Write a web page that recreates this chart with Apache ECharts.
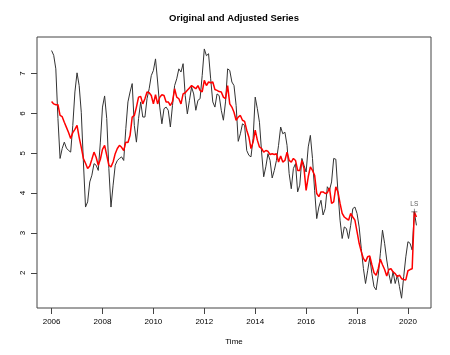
<!DOCTYPE html>
<html>
<head>
<meta charset="utf-8">
<script src="https://cdn.jsdelivr.net/npm/echarts@6/dist/echarts.min.js"></script>
<style>html,body{margin:0;padding:0;background:#fff}#c{width:450px;height:355px}</style>
</head>
<body>
<div id="c"></div>
<script>
const startYear = 2006;
const frequency = 12;
const original = [
7.58,7.46,7.12,5.87,4.87,5.12,5.28,5.13,5.07,5.03,5.70,6.54,
7.02,6.70,6.03,4.78,3.65,3.78,4.28,4.45,4.74,4.70,4.57,5.28,
6.16,6.44,5.87,4.62,3.65,4.20,4.70,4.82,4.87,4.91,4.82,5.62,
6.29,6.54,6.75,5.70,5.28,5.87,6.29,5.91,5.91,6.37,6.62,6.95,
7.08,7.37,6.79,6.16,5.74,6.12,6.16,6.08,5.66,6.20,6.70,6.87,
7.12,7.04,7.25,6.45,5.99,6.33,6.66,6.49,6.08,6.33,6.37,6.95,
7.62,7.45,7.50,6.87,6.29,6.16,6.49,6.45,6.08,5.83,6.29,7.12,
7.08,6.79,6.70,6.20,5.30,5.49,5.74,5.70,5.07,4.95,4.91,5.37,
6.41,6.12,5.78,5.03,4.41,4.66,4.99,4.82,4.38,4.57,4.82,5.20,
5.66,5.49,5.53,5.20,4.49,4.11,4.62,4.74,4.03,4.20,4.87,4.70,
4.53,5.16,5.45,4.87,4.07,3.36,3.65,3.82,3.45,3.61,4.16,4.07,
4.28,4.87,4.85,4.03,3.32,2.86,3.15,3.11,2.86,3.19,3.61,3.65,
3.49,3.15,2.61,2.11,1.73,2.05,2.38,1.98,1.65,1.57,1.94,2.49,
3.07,2.74,2.32,1.98,1.73,2.03,1.73,1.94,1.65,1.36,1.90,2.40,
2.78,2.74,2.57,3.53,3.19
];
const adjusted = [
6.30,6.24,6.22,6.22,5.95,5.92,5.78,5.65,5.52,5.37,5.52,5.60,
5.70,5.40,5.15,4.87,4.75,4.62,4.68,4.85,5.03,4.90,4.70,4.85,
5.10,5.20,4.95,4.70,4.66,4.78,4.99,5.12,5.20,5.15,5.07,5.28,
5.27,5.45,5.91,5.95,6.16,6.41,6.43,6.24,6.37,6.54,6.52,6.45,
6.24,6.47,6.24,6.41,6.47,6.45,6.29,6.29,6.20,6.30,6.62,6.41,
6.37,6.24,6.49,6.52,6.58,6.64,6.70,6.66,6.62,6.70,6.58,6.54,
6.83,6.70,6.79,6.77,6.79,6.60,6.58,6.55,6.54,6.41,6.37,6.70,
6.24,6.16,6.03,5.83,5.91,5.95,5.83,5.80,5.58,5.41,5.12,5.28,
5.58,5.33,5.16,5.12,5.03,5.07,5.05,4.97,4.99,4.97,4.99,4.78,
4.93,4.78,4.82,5.03,4.82,4.78,4.87,4.82,4.57,4.57,4.82,4.62,
4.07,4.41,4.66,4.57,4.45,3.99,3.91,4.03,4.03,3.99,4.01,4.13,
3.74,3.78,4.16,4.03,3.74,3.49,3.40,3.36,3.32,3.49,3.40,3.32,
3.03,2.74,2.53,2.36,2.28,2.40,2.42,2.20,2.00,1.94,2.10,2.34,
2.20,2.08,1.92,2.08,2.10,2.02,1.98,1.90,1.94,1.85,1.83,1.82,
2.05,2.08,2.10,3.53,3.40
];
const xTicks = [2006, 2008, 2010, 2012, 2014, 2016, 2018, 2020];
const yTicks = [2, 3, 4, 5, 6, 7];
const outlierIndex = [171];
const outlierLabel = ['LS'];

const t = i => startYear + i / frequency;
const origData = original.map((v, i) => [t(i), v]);
const adjData = adjusted.map((v, i) => [t(i), v]);
const outData = outlierIndex.map((idx, k) => ({value: [t(idx), adjusted[idx]], label: {formatter: outlierLabel[k]}}));

const font = 'Liberation Sans, Arial, Helvetica, sans-serif';
const chart = echarts.init(document.getElementById('c'));
chart.setOption({
  animation: false,
  backgroundColor: '#fff',
  graphic: [{
    type: 'text', x: 234, y: 18,
    style: {text: 'Original and Adjusted Series', fill: '#000',
      font: 'bold 9.5px ' + font, align: 'center', verticalAlign: 'middle'}
  }],
  grid: {left: 37, right: 19, top: 37, bottom: 47, show: true, borderColor: '#444', borderWidth: 1, backgroundColor: 'transparent'},
  xAxis: {
    type: 'value', min: 2005.427, max: 2020.906,
    name: 'Time', nameLocation: 'middle', nameGap: 30,
    nameTextStyle: {fontSize: 8, fontFamily: font, color: '#000'},
    axisLine: {show: false},
    splitLine: {show: false},
    axisTick: {show: true, length: 6, lineStyle: {color: '#444'}, customValues: xTicks},
    axisLabel: {fontSize: 8, fontFamily: font, color: '#000', margin: 10, customValues: xTicks, formatter: v => String(v)}
  },
  yAxis: {
    type: 'value', min: 1.115, max: 7.92,
    axisLine: {show: false},
    splitLine: {show: false},
    axisTick: {show: true, length: 6, lineStyle: {color: '#444'}, customValues: yTicks},
    axisLabel: {fontSize: 8, fontFamily: font, color: '#000', margin: 10, rotate: 90, customValues: yTicks, formatter: v => String(v)}
  },
  series: [
    {type: 'line', data: origData, showSymbol: false, symbol: 'none', lineStyle: {color: '#333', width: 1}, z: 2},
    {type: 'line', data: adjData, showSymbol: false, symbol: 'none', lineStyle: {color: '#ff0000', width: 1.5}, z: 3},
    {type: 'scatter', data: outData, symbol: 'path://M4.4,0h1.2v10h-1.2zM0,4.4h10v1.2h-10z', symbolSize: 6,
      itemStyle: {color: '#333'}, z: 4,
      label: {show: true, position: 'top', distance: 1, fontSize: 6.5, fontFamily: font, color: '#333'}}
  ]
});
</script>
</body>
</html>
